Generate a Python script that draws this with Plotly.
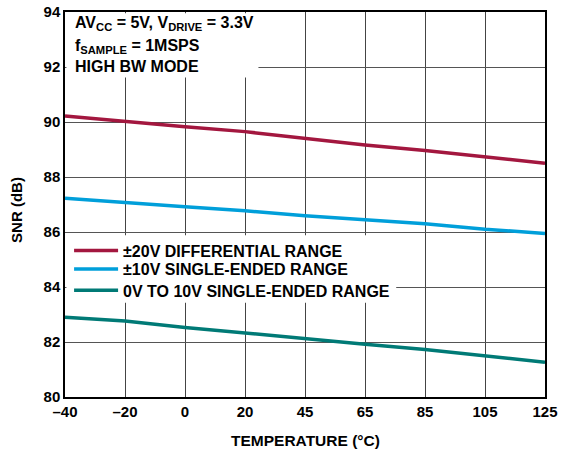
import plotly.graph_objects as go

temperatures = ["–40", "–20", "0", "20", "45", "65", "85", "105", "125"]
snr_diff20 = [90.22, 90.01, 89.83, 89.65, 89.40, 89.16, 88.96, 88.72, 88.50]
snr_se10 = [87.23, 87.06, 86.92, 86.77, 86.59, 86.45, 86.30, 86.10, 85.95]
snr_0to10 = [82.90, 82.76, 82.53, 82.32, 82.10, 81.92, 81.73, 81.49, 81.26]
series_names = ["±20V DIFFERENTIAL RANGE", "±10V SINGLE-ENDED RANGE", "0V TO 10V SINGLE-ENDED RANGE"]
y_ticks = [80, 82, 84, 86, 88, 90, 92, 94]

colors = ["#A3173F", "#009FDA", "#007A76"]
FONT = "Liberation Sans, Arial, sans-serif"
legend_ids = ["legend", "legend2", "legend3"]
legend_rows = [0.380, 0.3325, 0.2770]

fig = go.Figure()
for name, vals, c, lg in zip(series_names, [snr_diff20, snr_se10, snr_0to10], colors, legend_ids):
    fig.add_trace(go.Scatter(x=temperatures, y=vals, mode="lines", name=name, legend=lg,
                             line=dict(color=c, width=3.5)))

legend_font = dict(family=FONT, size=16, color="black", weight="bold")
layout_legends = {}
for lg, yy in zip(legend_ids, legend_rows):
    layout_legends[lg] = dict(x=0.0085, y=yy, xanchor="left", yanchor="middle",
                              bgcolor="rgba(0,0,0,0)", borderwidth=0,
                              font=legend_font, itemwidth=44)

fig.update_layout(
    width=566, height=452,
    margin=dict(l=65, r=21, t=12, b=55, autoexpand=False),
    paper_bgcolor="white", plot_bgcolor="white",
    font=dict(family=FONT, color="black", size=15, weight="bold"),
    showlegend=True,
    **layout_legends,
)
fig.update_xaxes(
    type="category", range=[0, 8], automargin=False, ticklabeloverflow="allow",
    showgrid=True, gridcolor="#444", gridwidth=1,
    showline=True, mirror=True, linecolor="black", linewidth=1.5,
    ticks="", tickfont=dict(family=FONT, size=15, color="black", weight="bold"),
)
fig.update_yaxes(
    range=[80, 94], tickvals=y_ticks, automargin=False, ticklabeloverflow="allow",
    showgrid=True, gridcolor="#555", gridwidth=1,
    showline=True, mirror=True, linecolor="black", linewidth=1.5,
    ticks="", tickfont=dict(family=FONT, size=15, color="black", weight="bold"),
    zeroline=False,
)

# axis titles
fig.add_annotation(text="TEMPERATURE (°C)", xref="paper", yref="paper", x=0.5, y=-0.1117,
                   xanchor="center", yanchor="middle", showarrow=False,
                   font=dict(family=FONT, size=15.5, color="black", weight="bold"))
fig.add_annotation(text="SNR (dB)", xref="paper", yref="paper", x=-0.1, y=0.486,
                   xanchor="center", yanchor="middle", showarrow=False, textangle=-90,
                   font=dict(family=FONT, size=15, color="black", weight="bold"))

# white boxes hiding grid behind text and legend
fig.add_shape(type="rect", xref="paper", yref="paper", x0=0.003, x1=0.403, y0=0.83, y1=0.997,
              fillcolor="white", line=dict(width=0), layer="above")
fig.add_shape(type="rect", xref="paper", yref="paper", x0=0.003, x1=0.69, y0=0.245, y1=0.42,
              fillcolor="white", line=dict(width=0), layer="above")

ann_lines = [
    ("AV<sub>CC</sub> = 5V, V<sub>DRIVE</sub> = 3.3V", 0.969),
    ("f<sub>SAMPLE</sub> = 1MSPS", 0.91),
    ("HIGH BW MODE", 0.859),
]
for txt, yy in ann_lines:
    fig.add_annotation(text=txt, xref="paper", yref="paper", x=0.016, y=yy,
                       xanchor="left", yanchor="middle", showarrow=False,
                       font=dict(family=FONT, size=16, color="black", weight="bold"))

fig.write_html("out.html", config={"displayModeBar": False},
               post_script="document.body.style.margin='0';")
